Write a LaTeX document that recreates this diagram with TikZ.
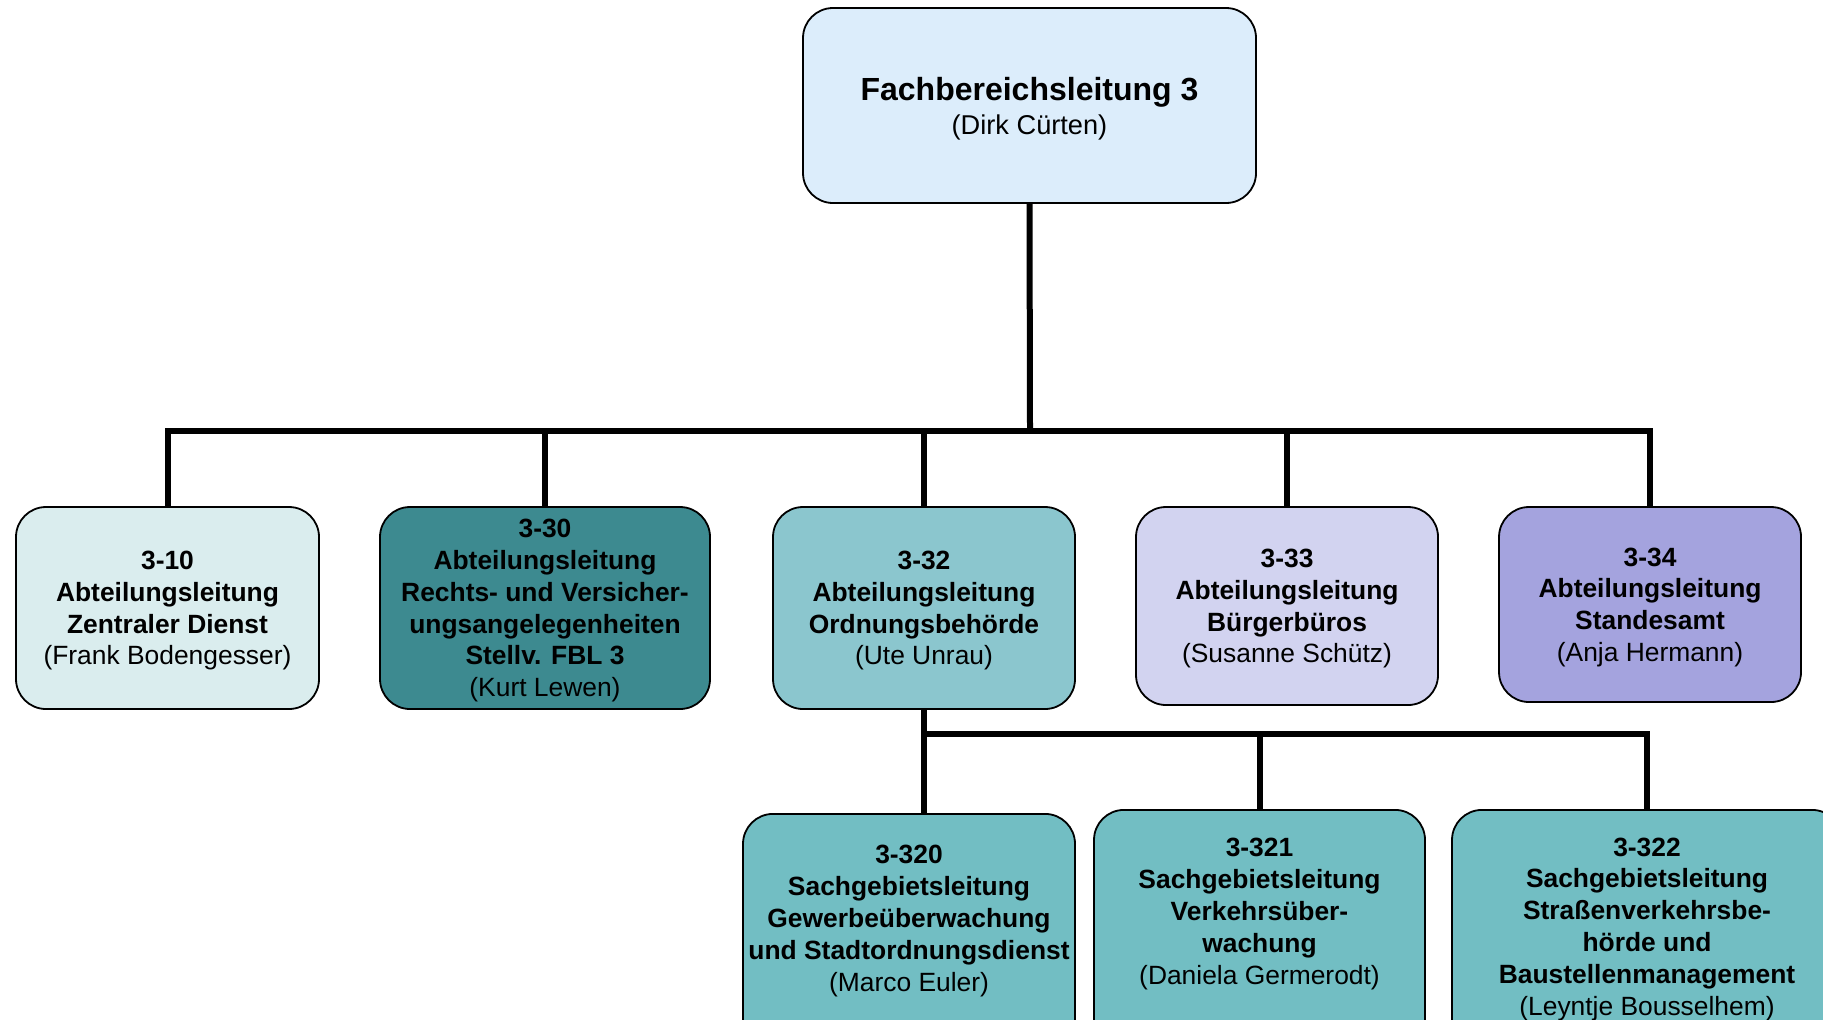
\documentclass[tikz,border=0pt]{standalone}
\usepackage{fontspec}
\setmainfont{Liberation Sans}
\definecolor{ctop}{HTML}{DCEDFB}
\definecolor{c310}{HTML}{DAEDEE}
\definecolor{c330}{HTML}{3D8A90}
\definecolor{c332}{HTML}{8BC6CE}
\definecolor{c333}{HTML}{D2D3F0}
\definecolor{c334}{HTML}{A4A3DE}
\definecolor{crow}{HTML}{72BEC3}
\tikzset{
  orgbox/.style={draw=black, line width=0.9pt, rounded corners=15pt, inner sep=0pt, align=center,
    text depth=-1pt, font=\fontsize{13.2}{15.9}\selectfont},
  txt/.style={inner sep=0pt, align=center, font=\fontsize{13.2}{15.9}\selectfont},
  conn/.style={draw=black, line width=3pt},
}
\begin{document}
\begin{tikzpicture}[x=0.5pt,y=-0.5pt]
\useasboundingbox (0,0) rectangle (1823,1019);
\clip (0,0) rectangle (1823,1019);
% top
\node[orgbox, fill=ctop, minimum width=226.5pt, minimum height=97.5pt] (top) at (1029.5,105.5)
  {{\fontsize{16}{18}\selectfont\bfseries Fachbereichsleitung 3}\\[1pt]{\fontsize{13.6}{18}\selectfont (Dirk Cürten)}};
% row 2
\node[orgbox, fill=c310, minimum width=151.5pt, minimum height=101pt] (b310) at (167.5,608)
  {\textbf{3-10}\\\textbf{Abteilungsleitung}\\\textbf{Zentraler Dienst}\\(Frank Bodengesser)};
\node[orgbox, fill=c330, minimum width=165pt, minimum height=101pt] (b330) at (545,608)
  {\textbf{3-30}\\\textbf{Abteilungsleitung}\\\textbf{Rechts- und Versicher-}\\\textbf{ungsangelegenheiten}\\\textbf{Stellv. FBL 3}\\(Kurt Lewen)};
\node[orgbox, fill=c332, minimum width=151pt, minimum height=101pt] (b332) at (924,608)
  {\textbf{3-32}\\\textbf{Abteilungsleitung}\\\textbf{Ordnungsbehörde}\\(Ute Unrau)};
\node[orgbox, fill=c333, minimum width=151pt, minimum height=99pt] (b333) at (1287,606)
  {\textbf{3-33}\\\textbf{Abteilungsleitung}\\\textbf{Bürgerbüros}\\(Susanne Schütz)};
\node[orgbox, fill=c334, minimum width=151pt, minimum height=97.5pt] (b334) at (1650,604.5)
  {\textbf{3-34}\\\textbf{Abteilungsleitung}\\\textbf{Standesamt}\\(Anja Hermann)};
% row 3 boxes
\node[orgbox, fill=crow, minimum width=166pt, minimum height=130pt, anchor=north] (n320) at (909,813) {};
\node[orgbox, fill=crow, minimum width=165.5pt, minimum height=130pt, anchor=north] (n321) at (1259.5,809) {};
\node[orgbox, fill=crow, minimum width=195pt, minimum height=130pt, anchor=north] (n322) at (1647,809) {};
\node[txt] (t320) at (909,921)
  {\textbf{3-320}\\\textbf{Sachgebietsleitung}\\\textbf{Gewerbeüberwachung}\\\textbf{und Stadtordnungsdienst}\\(Marco Euler)};
\node[txt] (t321) at (1259.5,914)
  {\textbf{3-321}\\\textbf{Sachgebietsleitung}\\\textbf{Verkehrsüber-}\\\textbf{wachung}\\(Daniela Germerodt)};
\node[txt] (t322) at (1647,929)
  {\textbf{3-322}\\\textbf{Sachgebietsleitung}\\\textbf{Straßenverkehrsbe-}\\\textbf{hörde und}\\\textbf{Baustellenmanagement}\\(Leyntje Bousselhem)};
% connectors level 1
\coordinate (j1) at (1030,431);
\draw[conn] (top.south) -- (j1);
\draw[conn] (b310.north) -- (b310.north |- j1) -- (b334.north |- j1) -- (b334.north);
\draw[conn] (b330.north |- j1) -- (b330.north);
\draw[conn] (b332.north |- j1) -- (b332.north);
\draw[conn] (b333.north |- j1) -- (b333.north);
% connectors level 2
\coordinate (j2) at (924,734);
\draw[conn] (b332.south) -- (j2) -- (n322.north |- j2) -- (n322.north);
\draw[conn] (j2) -- (j2 |- n320.north);
\draw[conn] (n321.north |- j2) -- (n321.north);
\end{tikzpicture}
\end{document}
